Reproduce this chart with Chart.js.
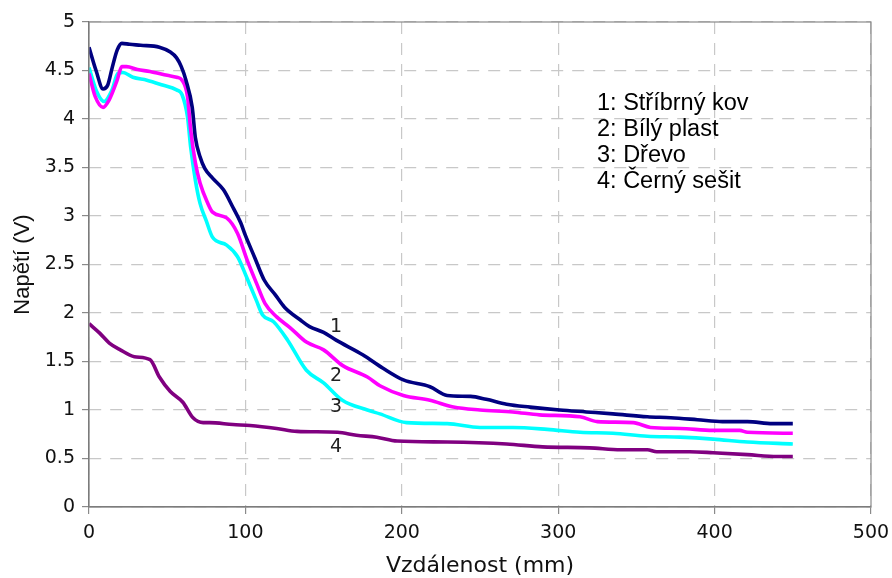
<!DOCTYPE html>
<html>
<head>
<meta charset="utf-8">
<script src="https://cdn.jsdelivr.net/npm/chart.js@4/dist/chart.umd.min.js"></script>
<style>
    html, body { margin: 0; padding: 0; background: #fff; }
    #wrap { width: 892px; height: 578px; }
</style>
</head>
<body>
<div id="wrap"><canvas id="napeti-chart" width="892" height="578"></canvas></div>
<script>
// 1: Stříbrný kov
const kovX = [0, 4.5, 9, 12, 15, 18, 21, 26, 33, 45, 52, 56, 59, 62, 66, 68, 71, 74, 79, 86, 92, 97, 100, 106, 112, 119, 125, 135, 141, 150, 158, 175, 188, 201, 218, 229, 244, 254, 267, 282, 301, 318, 335, 357, 372, 389, 405, 421, 437, 450];
const kovY = [4.74, 4.50, 4.31, 4.35, 4.54, 4.71, 4.78, 4.77, 4.76, 4.74, 4.69, 4.63, 4.54, 4.40, 4.12, 3.81, 3.61, 3.49, 3.39, 3.27, 3.09, 2.93, 2.80, 2.57, 2.34, 2.19, 2.06, 1.93, 1.86, 1.80, 1.72, 1.57, 1.43, 1.31, 1.24, 1.15, 1.14, 1.11, 1.06, 1.03, 1.00, 0.98, 0.96, 0.93, 0.92, 0.90, 0.88, 0.88, 0.86, 0.86];

// 2: Bílý plast
const plastX = [0, 4, 9, 13, 18, 21, 24, 31, 39, 50, 56, 59.5, 63, 65, 68, 71, 76, 79, 88, 95, 101, 107, 112.5, 120, 128.5, 139, 150, 162, 178, 186, 201, 218, 233, 250, 271, 288, 314, 325, 348, 359, 378, 399, 416, 421, 450];
const plastY = [4.47, 4.23, 4.12, 4.20, 4.40, 4.54, 4.54, 4.51, 4.49, 4.45, 4.43, 4.40, 4.23, 3.89, 3.55, 3.34, 3.13, 3.04, 2.98, 2.82, 2.55, 2.31, 2.10, 1.96, 1.85, 1.70, 1.62, 1.46, 1.34, 1.25, 1.15, 1.10, 1.03, 1.00, 0.98, 0.95, 0.93, 0.88, 0.87, 0.82, 0.81, 0.79, 0.79, 0.77, 0.76];

// 3: Dřevo
const drevoX = [0, 5, 9.6, 14.7, 18.5, 21.7, 28, 37, 47, 56, 59.5, 63, 65, 68, 71, 75, 79, 88, 95, 101, 107, 111, 118, 127, 139, 150, 162, 178, 186, 203, 229, 250, 271, 293, 314, 335, 357, 378, 399, 421, 450];
const drevoY = [4.53, 4.28, 4.18, 4.30, 4.47, 4.48, 4.43, 4.40, 4.35, 4.30, 4.25, 4.02, 3.71, 3.37, 3.13, 2.95, 2.78, 2.70, 2.58, 2.36, 2.13, 1.98, 1.91, 1.72, 1.41, 1.28, 1.10, 1.00, 0.96, 0.87, 0.86, 0.82, 0.82, 0.80, 0.77, 0.76, 0.73, 0.72, 0.70, 0.67, 0.65];

// 4: Černý sešit
const sesitX = [0, 7, 13, 20, 29, 39, 45, 52, 60, 66.5, 73, 77, 92, 103, 120, 133, 159, 171, 184, 197, 229, 267, 290, 320, 340, 357, 363, 384, 399, 421, 440, 450];
const sesitY = [1.89, 1.79, 1.69, 1.62, 1.55, 1.52, 1.34, 1.19, 1.08, 0.92, 0.87, 0.87, 0.85, 0.84, 0.81, 0.78, 0.77, 0.74, 0.72, 0.68, 0.67, 0.65, 0.62, 0.61, 0.59, 0.59, 0.57, 0.57, 0.56, 0.54, 0.52, 0.52];

const seriesNames = ['1', '2', '3', '4'];
const legendLines = ['1: Stříbrný kov', '2: Bílý plast', '3: Dřevo', '4: Černý sešit'];
const curveLabelX = 158;
const curveLabelY = [1.86, 1.35, 1.03, 0.62];

const xTicks = [0, 100, 200, 300, 400, 500];
const yTicks = [0, 0.5, 1, 1.5, 2, 2.5, 3, 3.5, 4, 4.5, 5];

const colors = ['#000080', '#ff00ff', '#00ffff', '#800080'];
const ctx = document.getElementById('napeti-chart').getContext('2d');

function toPoints(xs, ys) {
    return xs.map((x, i) => ({ x, y: ys[i] }));
}

const dataSets = [
    toPoints(kovX, kovY),
    toPoints(plastX, plastY),
    toPoints(drevoX, drevoY),
    toPoints(sesitX, sesitY)
];

// frame round the plot area plus the number labels and the text block
const annotations = {
    id: 'annotations',
    afterDatasetsDraw(chart) {
        const { ctx, chartArea, scales } = chart;
        ctx.save();
        ctx.strokeStyle = '#8a8a8a';
        ctx.lineWidth = 1.2;
        ctx.strokeRect(chartArea.left, chartArea.top, chartArea.right - chartArea.left, chartArea.bottom - chartArea.top);

        ctx.fillStyle = '#222';
        ctx.font = '19px "DejaVu Sans"';
        ctx.textAlign = 'center';
        ctx.textBaseline = 'middle';
        seriesNames.forEach((name, i) => {
            ctx.fillText(name, scales.x.getPixelForValue(curveLabelX), scales.y.getPixelForValue(curveLabelY[i]));
        });

        ctx.fillStyle = '#000';
        ctx.font = '23.5px "Liberation Sans", Arial';
        ctx.textAlign = 'left';
        legendLines.forEach((line, i) => {
            ctx.fillText(line, 597, 104 + i * 26);
        });
        ctx.restore();
    }
};

new Chart(ctx, {
    type: 'line',
    data: {
        datasets: dataSets.map((points, i) => ({
            label: seriesNames[i],
            data: points,
            borderColor: colors[i],
            borderWidth: 3.6,
            pointRadius: 0,
            cubicInterpolationMode: 'monotone',
            fill: false
        }))
    },
    options: {
        responsive: false,
        animation: false,
        layout: { padding: { top: 22, right: 21, left: 0, bottom: 0 } },
        plugins: {
            legend: { display: false },
            tooltip: { enabled: false }
        },
        scales: {
            x: {
                type: 'linear',
                min: 0,
                max: 500,
                afterFit: s => { s.height = 71; s.paddingLeft = 0; s.paddingRight = 0; },
                afterBuildTicks: s => { s.ticks = xTicks.map(v => ({ value: v })); },
                ticks: {
                    color: '#111',
                    font: { family: 'DejaVu Sans', size: 19 },
                    padding: 8,
                    maxRotation: 0,
                    callback: v => String(v)
                },
                grid: { color: '#c8c8c8', tickColor: '#8a8a8a', tickLength: 7, lineWidth: 1.2 },
                border: { color: '#666', width: 1.2, dash: [12, 9] },
                title: {
                    display: true,
                    text: 'Vzdálenost (mm)',
                    color: '#111',
                    font: { family: 'DejaVu Sans', size: 22, lineHeight: 1.0 },
                    padding: { top: 0, bottom: 1 }
                }
            },
            y: {
                min: 0,
                max: 5,
                afterFit: s => { s.width = 89; s.paddingTop = 0; s.paddingBottom = 0; },
                afterBuildTicks: s => { s.ticks = yTicks.map(v => ({ value: v })); },
                ticks: {
                    color: '#111',
                    font: { family: 'DejaVu Sans', size: 19 },
                    padding: 7,
                    callback: v => String(v)
                },
                grid: { color: '#c8c8c8', tickColor: '#8a8a8a', tickLength: 7, lineWidth: 1.2 },
                border: { color: '#666', width: 1.2, dash: [12, 9] },
                title: {
                    display: true,
                    text: 'Napětí (V)',
                    color: '#111',
                    font: { family: 'Liberation Sans', size: 22, lineHeight: 1.2 },
                    padding: { top: 10, bottom: 0 }
                }
            }
        }
    },
    plugins: [annotations]
});
</script>
</body>
</html>
